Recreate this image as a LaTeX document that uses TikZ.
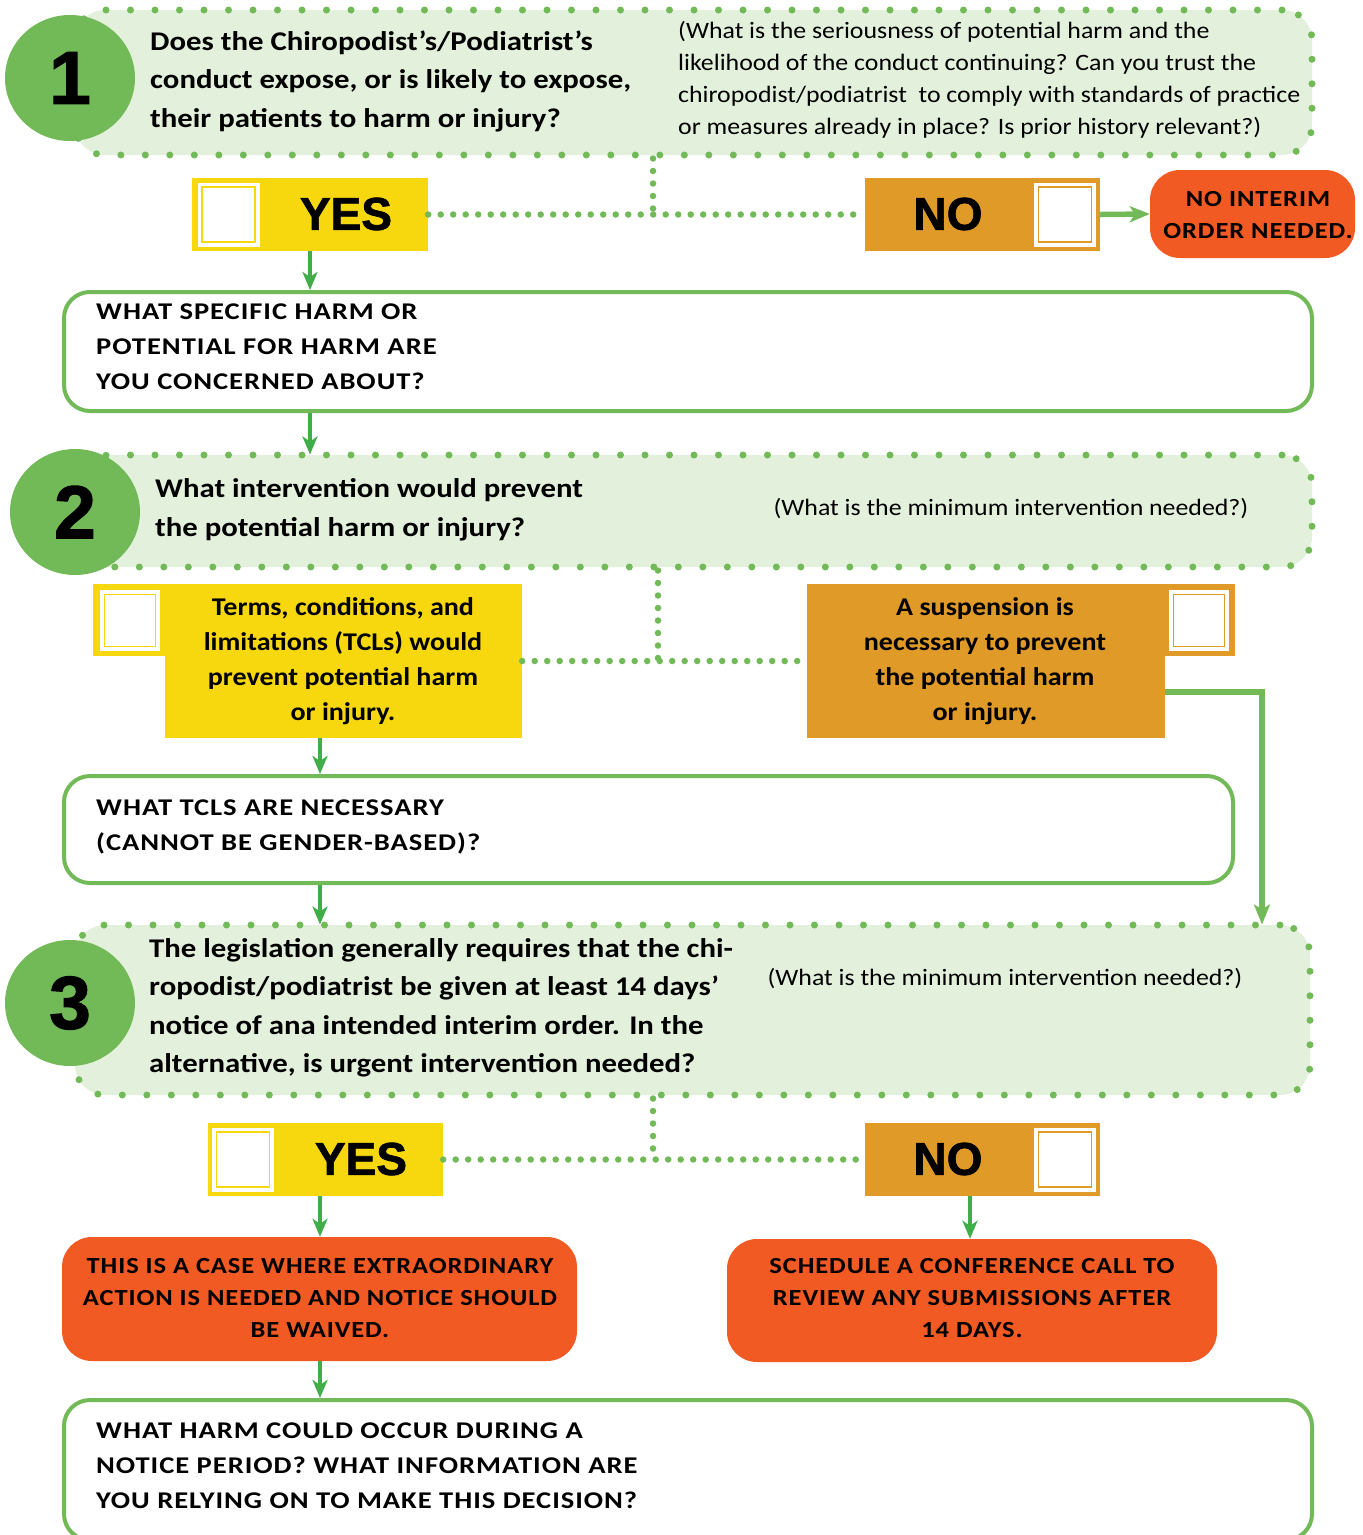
\documentclass[tikz,border=0pt]{standalone}
\usepackage{fontspec}
\setmainfont{Carlito}[FakeStretch=1.10]
\newfontfamily\titlef{Carlito}[FakeStretch=1.14]
\newfontfamily\blk{Liberation Sans}[BoldFeatures={FakeBold=1.5}]
\newfontfamily\capsf{Carlito}[LetterSpace=4, FakeStretch=1.19]
\newfontfamily\redf{Carlito}[LetterSpace=4, FakeStretch=1.15]
\usetikzlibrary{arrows.meta,shapes.geometric}
\definecolor{lightgreen}{HTML}{E3F0DC}
\definecolor{midgreen}{HTML}{72B957}
\definecolor{arrowgreen}{HTML}{3FAE49}
\definecolor{yel}{HTML}{F7D70E}
\definecolor{ora}{HTML}{E09A28}
\definecolor{redbox}{HTML}{F15A22}
\tikzset{
  qbox/.style={draw=midgreen, fill=lightgreen, line width=7pt, dash pattern=on 0pt off 24.5pt, line cap=round, rounded corners=30pt, inner sep=0pt},
  circ/.style={ellipse, fill=midgreen, minimum width=130pt, minimum height=126pt, inner sep=0pt, font=\blk\bfseries\fontsize{75}{75}\selectfont},
  ansbox/.style={inner sep=0pt, draw=none},
  chkw/.style={fill=white, draw=none, minimum width=62pt, minimum height=64pt, inner sep=0pt},
  chki/.style={draw=#1, line width=1.4pt, fill=white, minimum width=53pt, minimum height=55pt, inner sep=0pt},
  yn/.style={font=\blk\bfseries\fontsize{46}{46}\selectfont, inner sep=0pt},
  wbox/.style={draw=midgreen, fill=white, line width=4pt, rounded corners=26pt, inner sep=0pt},
  rbox/.style={fill=redbox, rounded corners=30pt, inner sep=0pt},
  dotl/.style={draw=midgreen, line width=6.5pt, dash pattern=on 0pt off 12.5pt, line cap=round},
  arr/.style={draw=arrowgreen, line width=4pt, -{Stealth[length=18pt, width=15pt, inset=5pt]}},
  sarr/.style={draw=midgreen, line width=5.5pt, -{Stealth[length=20pt, width=16pt, inset=5pt]}},
  title/.style={anchor=west, align=left, inner sep=0pt, font=\titlef\bfseries\fontsize{27}{38.5}\selectfont},
  note/.style={align=left, inner sep=0pt, font=\fontsize{23.5}{32}\selectfont},
  capst/.style={anchor=west, align=left, inner sep=0pt, font=\capsf\bfseries\fontsize{24}{35}\selectfont},
  redt/.style={align=center, inner sep=0pt, font=\redf\bfseries\fontsize{23}{32}\selectfont},
  tclt/.style={align=center, inner sep=0pt, font=\bfseries\fontsize{25.5}{35}\selectfont},
}
\begin{document}
\begin{tikzpicture}[x=1pt, y=-1pt]
\useasboundingbox (0,0) rectangle (1363,1535);
\clip (0,0) rectangle (1363,1535);
% ---------------- Question 1
\node[qbox, minimum width=1237pt, minimum height=145pt] (q1) at (693.5,82.5) {};
\node[circ] (c1) at (70,78) {1};
\node[title] (q1t) at (150,81) {Does the Chiropodist’s/Podiatrist’s\\conduct expose, or is likely to expose,\\their patients to harm or injury?};
\node[note, anchor=west] (q1n) at (678,80) {(What is the seriousness of potential harm and the\\likelihood of the conduct continuing? Can you trust the\\chiropodist/podiatrist\ \ to comply with standards of practice\\or measures already in place? Is prior history relevant?)};
% answers 1
\node[ansbox, fill=yel, minimum width=236pt, minimum height=73pt] (yes1) at (310,214.5) {};
\node[chkw] (yes1w) at (228.5,214.5) {};
\node[chki=yel] (yes1c) at (228.5,214.5) {};
\node[yn] (yes1t) at (346,214) {YES};
\node[ansbox, fill=ora, minimum width=235pt, minimum height=73pt] (no1) at (982.5,214.5) {};
\node[chkw] (no1w) at (1065,214.5) {};
\node[chki=ora] (no1c) at (1065,214.5) {};
\node[yn] (no1t) at (948,214) {NO};
\coordinate (d1) at (653,214);
\draw[dotl] (q1.south -| d1) -- (d1);
\draw[dotl] (yes1.east) -- (no1.west);
\node[rbox, minimum width=205pt, minimum height=88pt] (r1) at (1252.5,214) {};
\node[redt] (r1t) at (1258,215) {NO INTERIM\\ORDER NEEDED.};
\draw[sarr] (no1.east) -- (r1.west);
% white box 1
\node[wbox, minimum width=1248pt, minimum height=119pt] (w1) at (688,351.5) {};
\node[capst] (w1t) at (96,347) {WHAT SPECIFIC HARM OR\\POTENTIAL FOR HARM ARE\\YOU CONCERNED ABOUT?};
\draw[arr] (yes1.south) -- (w1.north -| yes1.south);
% ---------------- Question 2
\node[qbox, minimum width=1232pt, minimum height=112pt] (q2) at (696,511) {};
\node[circ] (c2) at (75,512) {2};
\node[title] (q2t) at (155,510) {What intervention would prevent\\the potential harm or injury?};
\node[note] (q2n) at (1011,509) {(What is the minimum intervention needed?)};
\draw[arr] (w1.south -| yes1.south) -- ([yshift=-3pt]q2.north -| yes1.south);
% answers 2
\node[ansbox, fill=yel, minimum width=357pt, minimum height=154pt] (t) at (343.5,661) {};
\node[ansbox, fill=yel, minimum width=72pt, minimum height=72pt] (ttab) at (129,620) {};
\node[chkw, minimum width=60pt, minimum height=61pt] (tw) at (130,620.5) {};
\node[chki=yel, minimum width=51pt, minimum height=52pt] (tc) at (130,620.5) {};
\node[tclt] (tt) at (343,661) {Terms, conditions, and\\limitations (TCLs) would\\prevent potential harm\\or injury.};
\node[ansbox, fill=ora, minimum width=358pt, minimum height=154pt] (s) at (986,661) {};
\node[ansbox, fill=ora, minimum width=70pt, minimum height=72pt] (stab) at (1200,620) {};
\node[chkw, minimum width=60pt, minimum height=61pt] (sw) at (1199,620.5) {};
\node[chki=ora, minimum width=51pt, minimum height=52pt] (sc) at (1199,620.5) {};
\node[tclt] (st) at (985,661) {A suspension is\\necessary to prevent\\the potential harm\\or injury.};
\coordinate (d2) at (658,660);
\draw[dotl] (q2.south -| d2) -- (d2);
\draw[dotl] (t.east) -- (s.west);
% white box 2
\node[wbox, minimum width=1169pt, minimum height=107pt] (w2) at (648.5,829.5) {};
\node[capst] (w2t) at (96,827) {WHAT TCLS ARE NECESSARY\\(CANNOT BE GENDER-BASED)?};
\coordinate (ax) at (320,0);
\draw[arr] (t.south -| ax) -- (w2.north -| ax);
% ---------------- Question 3
\node[qbox, minimum width=1235pt, minimum height=170pt] (q3) at (692.5,1010) {};
\node[circ] (c3) at (70,1003) {3};
\node[title] (q3t) at (149,1008) {The legislation generally requires that the chi-\\ropodist/podiatrist be given at least 14 days’\\notice of ana intended interim order. In the\\alternative, is urgent intervention needed?};
\node[note] (q3n) at (1005,979) {(What is the minimum intervention needed?)};
\draw[arr] (w2.south -| ax) -- ([yshift=-3pt]q3.north -| ax);
\coordinate (sk) at (1262,692);
\draw[sarr] (s.east |- sk) -- (sk) -- ([yshift=-3pt]q3.north -| sk);
% answers 3
\node[ansbox, fill=yel, minimum width=235pt, minimum height=73pt] (yes2) at (325.5,1159.5) {};
\node[chkw] (yes2w) at (243,1159.5) {};
\node[chki=yel] (yes2c) at (243,1159.5) {};
\node[yn] (yes2t) at (361,1159) {YES};
\node[ansbox, fill=ora, minimum width=235pt, minimum height=73pt] (no2) at (982.5,1159.5) {};
\node[chkw] (no2w) at (1065,1159.5) {};
\node[chki=ora] (no2c) at (1065,1159.5) {};
\node[yn] (no2t) at (948,1159) {NO};
\coordinate (d3) at (653,1160);
\draw[dotl] (q3.south -| d3) -- (d3);
\draw[dotl] (yes2.east) -- (no2.west);
% outcomes
\node[rbox, minimum width=515pt, minimum height=124pt] (rL) at (319.5,1299) {};
\node[redt] (rLt) at (320,1298) {THIS IS A CASE WHERE EXTRAORDINARY\\ACTION IS NEEDED AND NOTICE SHOULD\\BE WAIVED.};
\node[rbox, minimum width=490pt, minimum height=123pt] (rR) at (972,1300.5) {};
\node[redt] (rRt) at (972,1298) {SCHEDULE A CONFERENCE CALL TO\\REVIEW ANY SUBMISSIONS AFTER\\14 DAYS.};
\coordinate (ax2) at (970,0);
\draw[arr] (yes2.south -| ax) -- (rL.north -| ax);
\draw[arr] (no2.south -| ax2) -- (rR.north -| ax2);
% white box 3
\node[wbox, minimum width=1248pt, minimum height=140pt] (w3) at (688,1470) {};
\node[capst] (w3t) at (96,1466) {WHAT HARM COULD OCCUR DURING A\\NOTICE PERIOD? WHAT INFORMATION ARE\\YOU RELYING ON TO MAKE THIS DECISION?};
\draw[arr] (rL.south -| ax) -- (w3.north -| ax);
\end{tikzpicture}
\end{document}
